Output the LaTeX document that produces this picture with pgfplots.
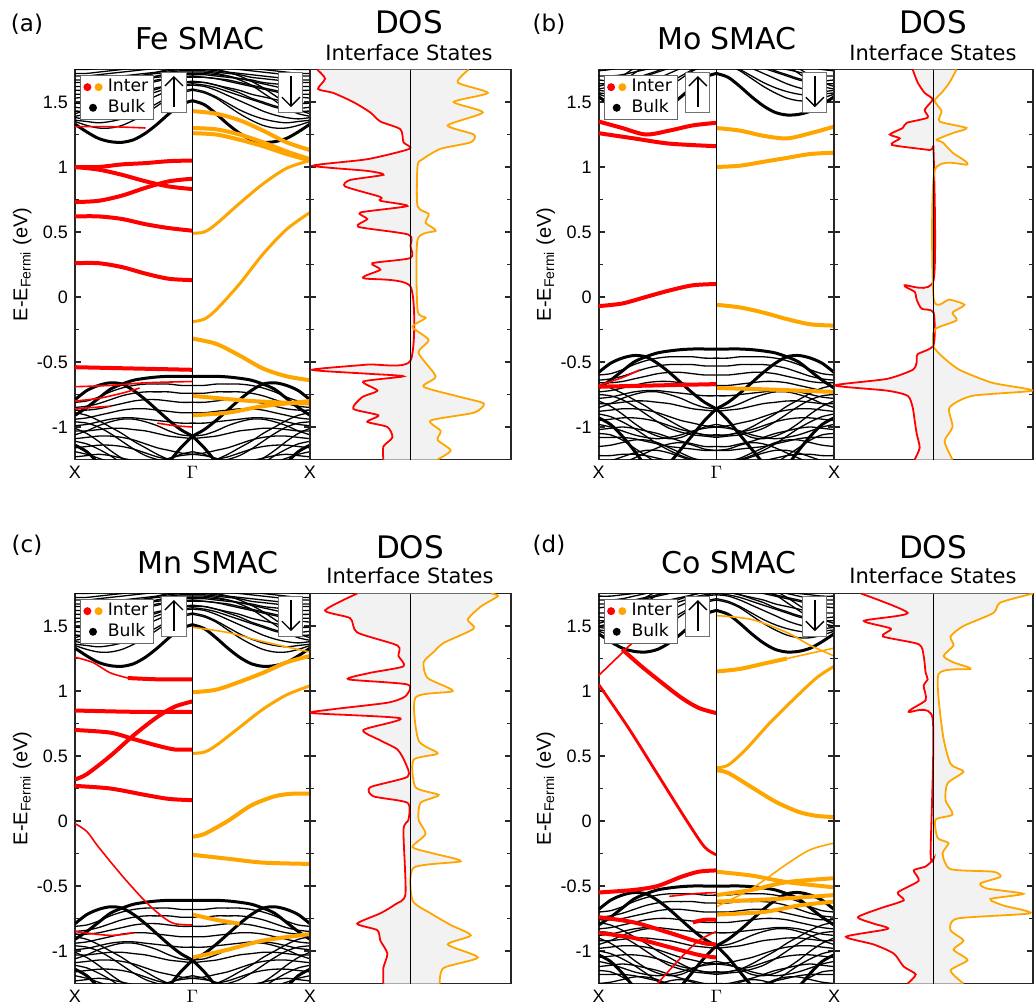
\documentclass[border=0pt]{standalone}
\usepackage{fontspec}
\setmainfont{Liberation Sans}
\newfontfamily\djv{DejaVu Sans}
\usepackage{pgfplots}
\usepackage{pgfplotstable}
\pgfplotsset{compat=1.18}
\usetikzlibrary{arrows.meta}
\definecolor{myorange}{RGB}{255,165,0}
\definecolor{dosfill}{RGB}{242,242,242}

% bulk bands, energies relative to the valence band top, x: X=0 .. Gamma=1
\pgfplotstableread{
x D A B C v2 v3 v4 v5 v6 v7 v8 v9 v10 v11 v12 v13 v14 v15 c1 c2 c3 c4 c5 c6 c7 c8 c9 c10 c11
0.0 -0.30 -0.18 -1.32 -0.53 -0.20 -0.24 -0.26 -0.33 -0.38 -0.42 -0.48 -0.55 -0.62 -0.68 -0.40 -0.75 -0.82 -0.95 1.94 1.96 1.99 2.04 2.10 2.14 2.20 2.26 2.31 2.36 2.02
0.1 -0.24 -0.11 -1.30 -0.58 -0.19 -0.23 -0.26 -0.32 -0.37 -0.42 -0.47 -0.54 -0.61 -0.68 -0.44 -0.74 -0.82 -0.92 1.88 1.93 1.98 2.04 2.10 2.15 2.20 2.26 2.31 2.36 2.05
0.2 -0.17 -0.07 -1.25 -0.67 -0.16 -0.21 -0.25 -0.30 -0.35 -0.41 -0.46 -0.53 -0.60 -0.68 -0.50 -0.72 -0.81 -0.88 1.83 1.91 1.99 2.05 2.11 2.17 2.21 2.27 2.32 2.37 2.10
0.3 -0.10 -0.05 -1.17 -0.78 -0.12 -0.18 -0.23 -0.28 -0.33 -0.40 -0.46 -0.53 -0.61 -0.69 -0.57 -0.70 -0.81 -0.84 1.805 1.91 2.01 2.07 2.13 2.19 2.23 2.28 2.33 2.38 2.16
0.4 -0.06 -0.06 -1.08 -0.90 -0.09 -0.15 -0.21 -0.26 -0.32 -0.40 -0.47 -0.54 -0.63 -0.71 -0.63 -0.70 -0.82 -0.80 1.80 1.93 2.04 2.10 2.15 2.21 2.25 2.29 2.34 2.38 2.22
0.5 -0.03 -0.11 -0.98 -1.00 -0.07 -0.13 -0.19 -0.25 -0.32 -0.41 -0.49 -0.56 -0.65 -0.73 -0.67 -0.72 -0.84 -0.76 1.82 1.97 2.08 2.13 2.17 2.23 2.27 2.30 2.35 2.39 2.27
0.6 -0.015 -0.18 -0.88 -1.10 -0.06 -0.12 -0.18 -0.25 -0.33 -0.42 -0.52 -0.59 -0.68 -0.75 -0.69 -0.76 -0.86 -0.73 1.87 2.02 2.12 2.16 2.20 2.25 2.29 2.32 2.36 2.40 2.31
0.7 -0.005 -0.26 -0.77 -1.15 -0.06 -0.12 -0.18 -0.26 -0.34 -0.44 -0.55 -0.62 -0.71 -0.76 -0.68 -0.80 -0.88 -0.72 1.94 2.08 2.16 2.19 2.22 2.27 2.30 2.33 2.37 2.40 2.34
0.8 0 -0.34 -0.66 -1.20 -0.06 -0.12 -0.19 -0.27 -0.35 -0.46 -0.57 -0.64 -0.73 -0.77 -0.64 -0.84 -0.89 -0.74 2.02 2.14 2.20 2.22 2.24 2.29 2.31 2.34 2.38 2.41 2.36
0.9 0 -0.41 -0.55 -1.22 -0.07 -0.13 -0.20 -0.28 -0.36 -0.47 -0.59 -0.66 -0.75 -0.78 -0.60 -0.86 -0.90 -0.77 2.09 2.18 2.23 2.24 2.26 2.30 2.32 2.35 2.38 2.41 2.37
1.0 0 -0.46 -0.46 -1.23 -0.07 -0.13 -0.20 -0.28 -0.36 -0.48 -0.60 -0.66 -0.75 -0.78 -0.58 -0.87 -0.90 -0.78 2.12 2.20 2.24 2.25 2.27 2.30 2.32 2.35 2.38 2.41 2.37
}\bulktab
% further bulk bands (same convention)
\pgfplotstableread{
x v16 v17 v18 v19 v20 v21 v22 c12 c13 c14 c15 c16 c17 c18
0.0 -0.28 -0.45 -0.58 -0.65 -0.50 -0.88 -0.35 1.97 2.07 2.17 2.23 2.28 2.33 2.00
0.1 -0.30 -0.42 -0.60 -0.66 -0.52 -0.86 -0.36 1.96 2.06 2.17 2.23 2.28 2.33 2.02
0.2 -0.34 -0.38 -0.63 -0.70 -0.56 -0.83 -0.39 1.95 2.06 2.18 2.24 2.29 2.34 2.06
0.3 -0.39 -0.35 -0.66 -0.76 -0.61 -0.80 -0.44 1.96 2.08 2.20 2.25 2.30 2.35 2.12
0.4 -0.44 -0.33 -0.68 -0.82 -0.67 -0.78 -0.50 1.98 2.11 2.22 2.26 2.31 2.36 2.18
0.5 -0.50 -0.33 -0.69 -0.88 -0.73 -0.78 -0.56 2.01 2.14 2.24 2.28 2.32 2.37 2.24
0.6 -0.55 -0.35 -0.68 -0.93 -0.78 -0.80 -0.61 2.05 2.18 2.26 2.29 2.33 2.37 2.28
0.7 -0.60 -0.38 -0.66 -0.96 -0.82 -0.83 -0.64 2.10 2.21 2.28 2.31 2.34 2.38 2.31
0.8 -0.64 -0.42 -0.63 -0.98 -0.85 -0.86 -0.66 2.15 2.24 2.29 2.32 2.35 2.39 2.33
0.9 -0.66 -0.45 -0.61 -0.99 -0.87 -0.88 -0.67 2.19 2.26 2.30 2.33 2.36 2.39 2.34
1.0 -0.67 -0.46 -0.60 -0.99 -0.88 -0.89 -0.68 2.21 2.26 2.31 2.33 2.36 2.39 2.34
}\bulktabb

% interface DOS: E, height (fraction of half panel)
\pgfplotstableread{
E v
1.75 0.93
1.68 0.85
1.60 0.92
1.57 0.77
1.50 0.57
1.42 0.40
1.35 0.30
1.29 0.10
1.19 0.07
1.14 0.01
1.06 0.43
1.01 0.97
0.97 0.43
0.94 0.27
0.90 0.60
0.85 0.65
0.77 0.30
0.74 0.30
0.70 0.03
0.65 0.50
0.60 0.43
0.54 0.52
0.48 0.02
0.39 0.00
0.30 0.00
0.26 0.38
0.21 0.30
0.145 0.47
0.08 0.00
-0.49 0.00
-0.52 0.43
-0.56 0.98
-0.59 0.43
-0.61 0.07
-0.65 0.47
-0.72 0.33
-0.77 0.48
-0.86 0.57
-0.91 0.32
-0.96 0.43
-1.00 0.23
-1.08 0.18
-1.15 0.27
-1.25 0.27
}\dosAup
\pgfplotstableread{
E v
1.75 0.58
1.65 0.47
1.57 0.77
1.50 0.43
1.42 0.72
1.32 0.37
1.25 0.63
1.19 0.60
1.14 0.30
1.06 0.12
1.01 0.07
0.70 0.07
0.64 0.18
0.57 0.15
0.51 0.25
0.44 0.07
-0.10 0.07
-0.16 0.15
-0.23 0.02
-0.33 0.18
-0.43 0.08
-0.61 0.25
-0.69 0.13
-0.77 0.50
-0.82 0.73
-0.89 0.63
-0.95 0.20
-1.03 0.30
-1.10 0.27
-1.18 0.40
-1.25 0.27
}\dosAdn
\pgfplotstableread{
E v
1.75 0.21
1.65 0.16
1.57 0.09
1.52 0.01
1.44 0.09
1.38 0.06
1.34 0.27
1.30 0.31
1.25 0.44
1.22 0.34
1.17 0.42
1.13 0.04
1.11 0.00
0.13 0.00
0.09 0.29
0.04 0.19
-0.02 0.17
-0.09 0.12
-0.12 0.00
-0.37 0.00
-0.44 0.16
-0.50 0.17
-0.56 0.21
-0.63 0.47
-0.68 0.99
-0.72 0.47
-0.76 0.26
-0.85 0.21
-0.95 0.19
-1.05 0.17
-1.16 0.14
-1.25 0.19
}\dosBup
\pgfplotstableread{
E v
1.75 0.23
1.65 0.16
1.57 0.08
1.51 0.01
1.43 0.08
1.35 0.06
1.30 0.33
1.26 0.19
1.21 0.03
1.19 0.09
1.11 0.19
1.02 0.34
0.97 0.01
-0.01 0.00
-0.02 0.16
-0.06 0.31
-0.12 0.19
-0.18 0.23
-0.25 0.01
-0.38 0.00
-0.46 0.09
-0.56 0.26
-0.66 0.59
-0.72 0.99
-0.76 0.39
-0.85 0.16
-1.00 0.19
-1.11 0.11
-1.25 0.19
}\dosBdn
\pgfplotstableread{
E v
1.75 0.53
1.62 0.85
1.56 0.60
1.45 0.53
1.35 0.13
1.27 0.12
1.19 0.07
1.14 0.40
1.09 0.62
1.05 0.03
0.96 0.05
0.91 0.23
0.86 0.77
0.83 0.98
0.79 0.10
0.70 0.47
0.62 0.30
0.55 0.13
0.445 0.05
0.34 0.03
0.26 0.40
0.19 0.37
0.14 0.03
0.01 0.02
-0.07 0.07
-0.56 0.05
-0.64 0.15
-0.71 0.30
-0.79 0.53
-0.84 0.33
-0.92 0.30
-1.02 0.23
-1.13 0.27
-1.25 0.27
}\dosCup
\pgfplotstableread{
E v
1.75 0.80
1.73 0.87
1.65 0.70
1.55 0.57
1.48 0.63
1.37 0.33
1.30 0.23
1.22 0.13
1.10 0.17
1.00 0.42
0.95 0.05
0.62 0.08
0.52 0.27
0.47 0.03
0.26 0.05
0.20 0.28
0.14 0.10
0.01 0.08
-0.10 0.15
-0.20 0.02
-0.25 0.23
-0.31 0.50
-0.36 0.03
-0.61 0.02
-0.71 0.20
-0.80 0.40
-0.88 0.60
-0.95 0.37
-1.05 0.67
-1.13 0.33
-1.25 0.29
}\dosCdn
\pgfplotstableread{
E v
1.75 0.73
1.60 0.26
1.54 0.70
1.48 0.43
1.42 0.51
1.36 0.15
1.27 0.10
1.14 0.08
1.09 0.06
1.04 0.10
0.93 0.08
0.84 0.25
0.79 0.01
-0.25 0.03
-0.29 0.00
-0.35 0.08
-0.38 0.20
-0.46 0.15
-0.55 0.36
-0.61 0.30
-0.67 0.53
-0.74 0.76
-0.79 0.60
-0.83 0.46
-0.89 0.88
-0.95 0.60
-1.02 0.40
-1.12 0.30
-1.18 0.18
-1.25 0.26
}\dosDup
\pgfplotstableread{
E v
1.75 1.00
1.68 0.67
1.60 0.60
1.50 0.30
1.42 0.17
1.35 0.20
1.27 0.10
1.22 0.20
1.17 0.37
1.13 0.05
0.68 0.09
0.44 0.17
0.38 0.30
0.29 0.14
0.16 0.12
0.05 0.19
0.01 0.02
-0.13 0.04
-0.17 0.15
-0.25 0.09
-0.37 0.17
-0.39 0.60
-0.43 0.67
-0.48 0.47
-0.52 0.54
-0.56 0.90
-0.60 0.57
-0.65 0.70
-0.71 0.97
-0.75 0.24
-0.84 0.17
-0.92 0.30
-0.99 0.20
-1.07 0.34
-1.15 0.17
-1.25 0.30
}\dosDdn

\pgfplotsset{
  frame/.style={scale only axis, height=195pt, ymin=-1.25, ymax=1.75,
    tick align=inside, major tick length=3pt, minor tick length=2pt,
    ytick={-1,-0.5,0,0.5,1,1.5}, minor ytick={-0.75,-0.25,0.25,0.75,1.25},
    axis line style={black!85, line width=0.8pt},
    tick style={black!85, line width=0.6pt},
    tick label style={font=\fontsize{9}{10}\selectfont}},
  bandax/.style={frame, width=117.5pt, xmin=0, xmax=2,
    xtick={0,1,2}, xticklabels={X,$\Gamma$,X}, xtick style={draw=none},
    yticklabels={-1,-0.5,0,0.5,1,1.5},
    ylabel={E-E\textsubscript{Fermi} (eV)},
    every axis y label/.style={at={(axis description cs:-0.225,0.5)}, rotate=90, anchor=center,
      font=\fontsize{10}{12}\selectfont},
    legend style={at={(0,1)}, anchor=north west, xshift=2.5pt, yshift=-2.75pt,
      draw=black!60, fill=white, font=\djv\fontsize{8.6}{9}\selectfont,
      inner xsep=1.5pt, inner ysep=0.8pt, nodes={inner sep=1.2pt}},
    legend cell align=left},
  dosax/.style={frame, xmin=-1, xmax=1, xtick=\empty, yticklabels={}},
  bulkthin/.style={black, line width=0.65pt, smooth},
  bulkthick/.style={black, line width=1.5pt, smooth},
  ired/.style={red, line width=2pt, smooth},
  ireds/.style={red, line width=0.8pt, smooth},
  iorg/.style={myorange, line width=2pt, smooth},
  iorgs/.style={myorange, line width=0.8pt, smooth},
}

\newcommand{\legendbox}{%
  \addlegendimage{legend image code/.code={\fill[red, draw=none] (2pt,0pt) circle (2pt);
    \fill[myorange, draw=none] (7.6pt,0pt) circle (2pt);
    \path[draw=none, fill=none] (0pt,0pt) rectangle (11pt,0.1pt);}}
  \addlegendentry{Inter}
  \addlegendimage{legend image code/.code={\fill[black, draw=none] (4.8pt,0pt) circle (2pt);
    \path[draw=none, fill=none] (0pt,0pt) rectangle (11pt,0.1pt);}}
  \addlegendentry{Bulk}
}
\newcommand{\bulkbands}[1]{%
  \pgfplotsinvokeforeach{v2,v3,v4,v5,v6,v7,v8,v9,v10,v11,v12,v13,v14,v15,c2,c3,c4,c5,c6,c7,c8,c9,c10,c11}{%
    \addplot[bulkthin] table[x=x, y expr=\thisrow{##1}+(#1)] {\bulktab};
    \addplot[bulkthin] table[x expr=2-\thisrow{x}, y expr=\thisrow{##1}+(#1)] {\bulktab};
  }%
  \pgfplotsinvokeforeach{v16,v17,v18,v19,v20,v21,v22,c12,c13,c14,c15,c16,c17,c18}{%
    \addplot[bulkthin] table[x=x, y expr=\thisrow{##1}+(#1)] {\bulktabb};
    \addplot[bulkthin] table[x expr=2-\thisrow{x}, y expr=\thisrow{##1}+(#1)] {\bulktabb};
  }%
  \pgfplotsinvokeforeach{D,A,B,C,c1}{%
    \addplot[bulkthick] table[x=x, y expr=\thisrow{##1}+(#1)] {\bulktab};
    \addplot[bulkthick] table[x expr=2-\thisrow{x}, y expr=\thisrow{##1}+(#1)] {\bulktab};
  }%
}
\newcommand{\spinboxes}{%
  \addplot[black, line width=0.6pt] coordinates {(1,-1.25) (1,1.75)};
  \draw[black!55, fill=white, line width=0.5pt] (axis cs:0.74,1.73) rectangle (axis cs:0.945,1.423);
  \draw[-{Straight Barb[length=4.5pt,width=9pt]}, line width=0.7pt] (axis cs:0.8425,1.46) -- (axis cs:0.8425,1.70);
  \draw[black!55, fill=white, line width=0.5pt] (axis cs:1.736,1.73) rectangle (axis cs:1.94,1.423);
  \draw[-{Straight Barb[length=4.5pt,width=9pt]}, line width=0.7pt] (axis cs:1.838,1.70) -- (axis cs:1.838,1.46);
}
\newcommand{\dosplots}[2]{%
  \addplot[draw=none, fill=dosfill, smooth, tension=0.4] table[x expr=-\thisrow{v}, y=E] {#1}
    -- (axis cs:0,-1.25) -- (axis cs:0,1.75) -- cycle;
  \addplot[draw=none, fill=dosfill, smooth, tension=0.4] table[x=v, y=E] {#2}
    -- (axis cs:0,-1.25) -- (axis cs:0,1.75) -- cycle;
  \addplot[red, line width=0.9pt, smooth, tension=0.4] table[x expr=-\thisrow{v}, y=E] {#1};
  \addplot[myorange, line width=0.9pt, smooth, tension=0.4] table[x=v, y=E] {#2};
  \addplot[black, line width=0.7pt] coordinates {(0,-1.25) (0,1.75)};
}

\begin{document}
\begin{tikzpicture}
\useasboundingbox (0pt,0pt) rectangle (517pt,-503.5pt);

% ---------------- (a) Fe ----------------
\node[font=\djv\fontsize{11.5}{12}\selectfont] at (13.5pt,-12pt) {(a)};
\node[font=\djv\fontsize{15}{16}\selectfont] at (100pt,-19.5pt) {Fe SMAC};
\node[font=\djv\fontsize{15.5}{16}\selectfont] at (204.5pt,-11pt) {DOS};
\node[font=\djv\fontsize{10.5}{11}\selectfont] at (204.5pt,-26.2pt) {Interface States};
\begin{axis}[bandax, at={(37.5pt,-34.75pt)}, anchor=north west]
\legendbox
\bulkbands{-0.61}
\addplot[ireds] coordinates {(0,1.31)(0.3,1.31)(0.6,1.30)};
\addplot[ireds] coordinates {(0,-0.69)(0.3,-0.68)(0.6,-0.66)(1,-0.65)};
\addplot[ireds] coordinates {(0,-0.80)(0.2,-0.78)(0.4,-0.74)(0.55,-0.70)};
\addplot[ireds] coordinates {(0,-0.86)(0.15,-0.85)(0.3,-0.84)};
\addplot[ireds] coordinates {(0.7,-0.97)(0.85,-0.99)(1,-1.0)};
\addplot[ired] coordinates {(0,1.0)(0.2,1.0)(0.4,1.02)(0.6,1.03)(0.8,1.045)(1,1.05)};
\addplot[ired] coordinates {(0,1.0)(0.2,0.98)(0.4,0.94)(0.6,0.89)(0.8,0.85)(1,0.83)};
\addplot[ired] coordinates {(0,0.73)(0.2,0.74)(0.4,0.78)(0.6,0.84)(0.8,0.89)(1,0.91)};
\addplot[ired] coordinates {(0,0.62)(0.2,0.62)(0.4,0.60)(0.6,0.56)(0.8,0.53)(1,0.51)};
\addplot[ired] coordinates {(0,0.26)(0.2,0.26)(0.4,0.23)(0.6,0.18)(0.8,0.14)(1,0.13)};
\addplot[ired] coordinates {(0,-0.54)(0.5,-0.55)(1,-0.56)};
\addplot[iorg] coordinates {(1,1.43)(1.2,1.41)(1.4,1.36)(1.6,1.28)(1.8,1.19)(2,1.13)};
\addplot[iorg] coordinates {(1,1.30)(1.2,1.29)(1.4,1.25)(1.6,1.19)(1.8,1.12)(2,1.06)};
\addplot[iorg] coordinates {(1,1.26)(1.2,1.25)(1.4,1.21)(1.6,1.16)(1.8,1.10)(2,1.05)};
\addplot[iorg, line width=1.5pt] coordinates {(1,0.49)(1.1,0.50)(1.2,0.56)(1.4,0.72)(1.6,0.87)(1.8,0.99)(2,1.05)};
\addplot[iorg, line width=1.5pt] coordinates {(1,-0.19)(1.1,-0.17)(1.2,-0.10)(1.4,0.10)(1.6,0.33)(1.8,0.52)(2,0.65)};
\addplot[iorg] coordinates {(1,-0.32)(1.2,-0.36)(1.4,-0.45)(1.6,-0.55)(1.8,-0.61)(2,-0.64)};
\addplot[iorg] coordinates {(1,-0.76)(1.5,-0.80)(2,-0.82)};
\addplot[iorg] coordinates {(1,-0.91)(1.3,-0.89)(1.6,-0.84)(2,-0.80)};
\spinboxes
\end{axis}
\begin{axis}[dosax, width=100.5pt, at={(155pt,-34.75pt)}, anchor=north west]
\dosplots{\dosAup}{\dosAdn}
\end{axis}

% ---------------- (b) Mo ----------------
\node[font=\djv\fontsize{11.5}{12}\selectfont] at (274.5pt,-12pt) {(b)};
\node[font=\djv\fontsize{15}{16}\selectfont] at (363.5pt,-19.5pt) {Mo SMAC};
\node[font=\djv\fontsize{15.5}{16}\selectfont] at (466.5pt,-11pt) {DOS};
\node[font=\djv\fontsize{10.5}{11}\selectfont] at (466.5pt,-26.2pt) {Interface States};
\begin{axis}[bandax, width=117.65pt, at={(299.35pt,-34.75pt)}, anchor=north west]
\legendbox
\bulkbands{-0.40}
\addplot[ireds] coordinates {(0,-0.68)(0.2,-0.62)(0.35,-0.56)};
\addplot[ired] coordinates {(0,1.35)(0.2,1.30)(0.4,1.25)(0.6,1.28)(0.8,1.32)(1,1.34)};
\addplot[ired] coordinates {(0,1.26)(0.3,1.22)(0.6,1.18)(1,1.16)};
\addplot[ired] coordinates {(0,-0.07)(0.2,-0.05)(0.4,0.0)(0.6,0.05)(0.8,0.09)(1,0.10)};
\addplot[ired] coordinates {(0,-0.69)(0.5,-0.68)(1,-0.67)};
\addplot[iorg] coordinates {(1,1.30)(1.2,1.28)(1.4,1.24)(1.6,1.22)(1.8,1.26)(2,1.31)};
\addplot[iorg] coordinates {(1,1.0)(1.2,1.01)(1.4,1.04)(1.6,1.07)(1.8,1.10)(2,1.11)};
\addplot[iorg] coordinates {(1,-0.06)(1.2,-0.08)(1.4,-0.12)(1.6,-0.17)(1.8,-0.21)(2,-0.22)};
\addplot[iorg] coordinates {(1,-0.70)(1.4,-0.71)(1.7,-0.72)(2,-0.73)};
\spinboxes
\end{axis}
\begin{axis}[dosax, width=99.6pt, at={(417pt,-34.75pt)}, anchor=north west]
\dosplots{\dosBup}{\dosBdn}
\end{axis}

% ---------------- (c) Mn ----------------
\node[font=\djv\fontsize{11.5}{12}\selectfont] at (13.5pt,-272.5pt) {(c)};
\node[font=\djv\fontsize{15}{16}\selectfont] at (104pt,-281.5pt) {Mn SMAC};
\node[font=\djv\fontsize{15.5}{16}\selectfont] at (205pt,-273.5pt) {DOS};
\node[font=\djv\fontsize{10.5}{11}\selectfont] at (205pt,-288pt) {Interface States};
\begin{axis}[bandax, at={(37.5pt,-296.75pt)}, anchor=north west]
\legendbox
\bulkbands{-0.61}
\addplot[ireds] coordinates {(0,-0.85)(0.3,-0.88)(0.5,-0.86)};
\addplot[ireds] coordinates {(0,-0.02)(0.1,-0.08)(0.2,-0.2)(0.4,-0.42)(0.6,-0.62)(0.75,-0.74)(0.85,-0.79)(1,-0.80)};
\addplot[ireds] coordinates {(0,1.26)(0.15,1.22)(0.3,1.14)(0.45,1.10)};
\addplot[ired] coordinates {(0.45,1.10)(0.7,1.09)(1,1.09)};
\addplot[ired] coordinates {(0,0.85)(0.5,0.84)(1,0.84)};
\addplot[ired] coordinates {(0,0.32)(0.1,0.36)(0.3,0.50)(0.5,0.66)(0.7,0.80)(0.85,0.88)(1,0.92)};
\addplot[ired] coordinates {(0,0.70)(0.3,0.68)(0.5,0.63)(0.7,0.58)(0.85,0.55)(1,0.55)};
\addplot[ired] coordinates {(0,0.27)(0.3,0.25)(0.6,0.20)(0.8,0.17)(1,0.16)};
\addplot[iorgs] coordinates {(1,1.49)(1.3,1.45)(1.6,1.38)(2,1.30)};
\addplot[iorg] coordinates {(1,0.99)(1.2,1.01)(1.4,1.07)(1.6,1.14)(1.8,1.22)(2,1.27)};
\addplot[iorg, line width=1.5pt] coordinates {(1,0.52)(1.1,0.53)(1.2,0.58)(1.4,0.72)(1.6,0.86)(1.8,0.97)(2,1.04)};
\addplot[iorg] coordinates {(1,-0.12)(1.1,-0.10)(1.3,0.0)(1.5,0.12)(1.7,0.19)(1.85,0.21)(2,0.21)};
\addplot[iorg] coordinates {(1,-0.26)(1.3,-0.29)(1.6,-0.32)(2,-0.33)};
\addplot[iorg] coordinates {(1,-0.72)(1.2,-0.76)(1.4,-0.79)};
\addplot[iorg] coordinates {(1,-1.05)(1.3,-0.99)(1.6,-0.92)(2,-0.87)};
\spinboxes
\end{axis}
\begin{axis}[dosax, width=100.5pt, at={(155pt,-296.75pt)}, anchor=north west]
\dosplots{\dosCup}{\dosCdn}
\end{axis}

% ---------------- (d) Co ----------------
\node[font=\djv\fontsize{11.5}{12}\selectfont] at (274.5pt,-272.5pt) {(d)};
\node[font=\djv\fontsize{15}{16}\selectfont] at (364.5pt,-281.5pt) {Co SMAC};
\node[font=\djv\fontsize{15.5}{16}\selectfont] at (466.5pt,-273.5pt) {DOS};
\node[font=\djv\fontsize{10.5}{11}\selectfont] at (466.5pt,-288pt) {Interface States};
\begin{axis}[bandax, width=117.65pt, at={(299.35pt,-296.75pt)}, anchor=north west]
\legendbox
\bulkbands{-0.50}
\addplot[ireds] coordinates {(0,1.12)(0.15,1.25)(0.3,1.38)(0.45,1.47)(0.6,1.52)};
\addplot[ireds] coordinates {(0.6,-0.58)(0.8,-0.56)(1,-0.55)};
\addplot[ireds] coordinates {(0.5,-1.25)(0.7,-1.05)(0.85,-0.92)(1,-0.85)};
\addplot[ired, line width=1.4pt] coordinates {(0,1.05)(0.25,0.72)(0.5,0.36)(0.75,0.0)(0.9,-0.2)(1,-0.26)};
\addplot[ired] coordinates {(0.2,1.32)(0.35,1.20)(0.5,1.09)(0.7,0.95)(0.85,0.87)(1,0.83)};
\addplot[ired] coordinates {(0,-0.55)(0.3,-0.53)(0.5,-0.50)(0.7,-0.43)(0.85,-0.39)(1,-0.38)};
\addplot[ired] coordinates {(0,-0.74)(0.3,-0.78)(0.6,-0.86)(0.85,-0.93)(1,-0.95)};
\addplot[ired] coordinates {(0,-0.86)(0.3,-0.90)(0.6,-0.97)(0.85,-1.03)(1,-1.05)};
\addplot[ired] coordinates {(0.8,-0.78)(0.9,-0.76)(1,-0.76)};
\addplot[iorgs] coordinates {(1,1.58)(1.3,1.55)(1.6,1.45)(1.8,1.35)(2,1.27)};
\addplot[iorg] coordinates {(1,1.15)(1.2,1.17)(1.4,1.21)(1.6,1.25)};
\addplot[iorgs] coordinates {(1.6,1.25)(1.8,1.29)(2,1.33)};
\addplot[iorg, line width=1.5pt] coordinates {(1,0.41)(1.1,0.43)(1.25,0.55)(1.45,0.75)(1.65,0.93)(1.85,1.10)(2,1.19)};
\addplot[iorg] coordinates {(1,0.39)(1.1,0.37)(1.3,0.26)(1.5,0.15)(1.7,0.07)(1.85,0.04)(2,0.03)};
\addplot[iorgs] coordinates {(1,-0.66)(1.3,-0.52)(1.6,-0.33)(1.8,-0.22)(2,-0.17)};
\addplot[iorg] coordinates {(1,-0.39)(1.3,-0.42)(1.6,-0.47)(2,-0.51)};
\addplot[iorg] coordinates {(1,-0.57)(1.3,-0.53)(1.6,-0.47)(2,-0.44)};
\addplot[iorg] coordinates {(1,-0.62)(1.5,-0.60)(2,-0.57)};
\addplot[iorg] coordinates {(1,-0.72)(1.4,-0.70)(1.7,-0.65)(2,-0.62)};
\spinboxes
\end{axis}
\begin{axis}[dosax, width=99.6pt, at={(417pt,-296.75pt)}, anchor=north west]
\dosplots{\dosDup}{\dosDdn}
\end{axis}
\end{tikzpicture}
\end{document}
